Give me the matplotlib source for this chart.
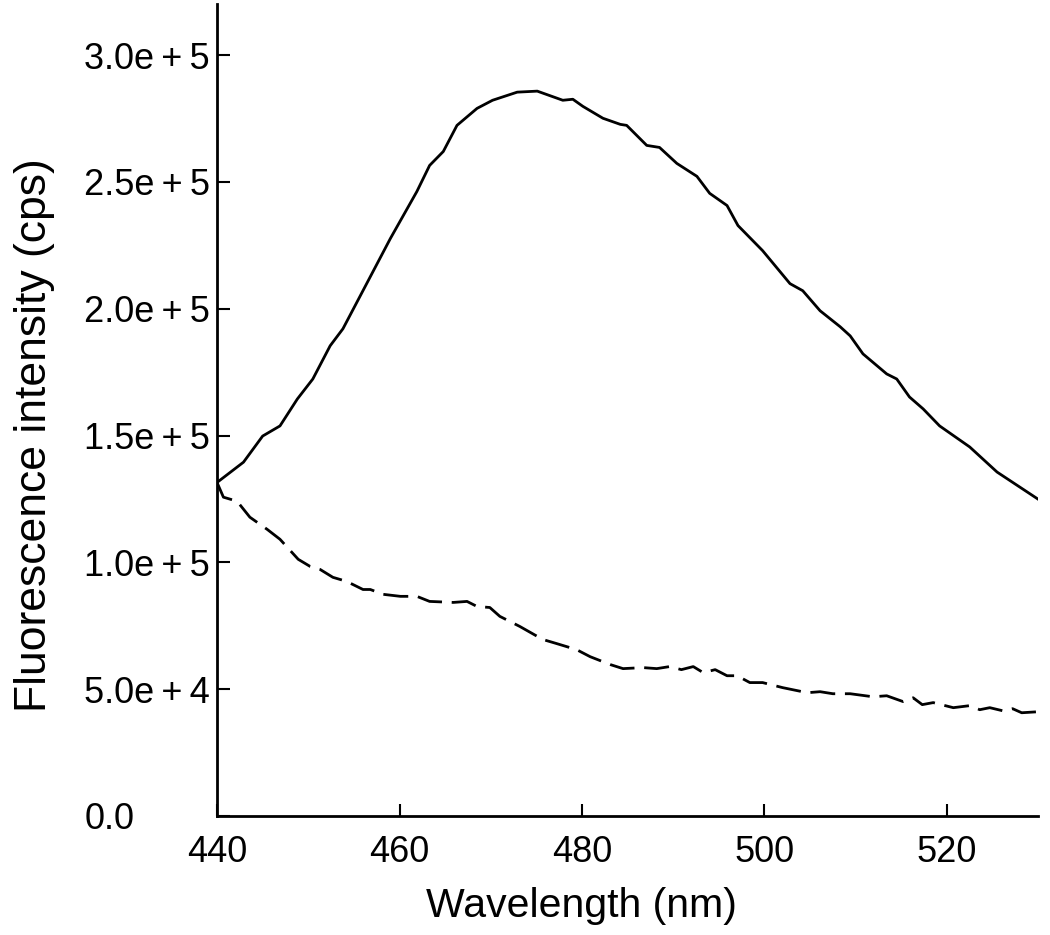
import matplotlib
matplotlib.use("Agg")
import matplotlib.pyplot as plt

# Solid curve
solid_wl = [440.0, 442.9, 445.0, 446.9, 448.8, 450.5, 452.4, 453.8, 455.7, 459.0,
            461.9, 463.3, 464.8, 466.3, 468.5, 470.2, 472.9, 475.1, 477.9, 479.0,
            480.1, 482.3, 484.2, 484.9, 487.1, 488.5, 490.4, 492.6, 494.0, 495.9,
            497.1, 499.8, 502.8, 504.2, 506.1, 508.3, 509.4, 510.8, 513.4, 514.5,
            515.9, 517.4, 519.2, 522.5, 525.5, 530.0]
solid_val = [1.315e5, 1.395e5, 1.498e5, 1.538e5, 1.644e5, 1.723e5, 1.854e5, 1.921e5, 2.051e5, 2.277e5,
             2.462e5, 2.565e5, 2.62e5, 2.723e5, 2.79e5, 2.822e5, 2.854e5, 2.858e5, 2.822e5, 2.826e5,
             2.798e5, 2.751e5, 2.727e5, 2.723e5, 2.644e5, 2.636e5, 2.573e5, 2.522e5, 2.455e5, 2.407e5,
             2.328e5, 2.229e5, 2.099e5, 2.071e5, 1.992e5, 1.929e5, 1.893e5, 1.822e5, 1.743e5, 1.723e5,
             1.652e5, 1.605e5, 1.538e5, 1.455e5, 1.356e5, 1.249e5]

# Dashed curve
dashed_wl = [440.0, 440.7, 442.2, 443.6, 445.5, 446.9, 448.9, 450.2, 451.3, 452.7,
             454.2, 456.0, 456.8, 458.2, 460.1, 461.9, 463.3, 465.9, 467.4, 468.5,
             469.9, 471.0, 472.1, 473.2, 475.7, 477.2, 479.4, 480.9, 483.1, 484.5,
             486.7, 488.2, 489.6, 490.9, 492.2, 493.3, 494.6, 495.9, 497.0, 498.4,
             499.8, 502.0, 504.7, 506.1, 507.5, 509.4, 511.9, 513.4, 515.2, 516.3,
             517.3, 518.5, 520.7, 522.5, 523.6, 524.7, 526.1, 527.2, 528.2, 530.0]
dashed_val = [1.315e5, 1.257e5, 1.241e5, 1.178e5, 1.13e5, 1.091e5, 1.012e5, 0.984e5, 0.972e5, 0.941e5,
              0.925e5, 0.893e5, 0.893e5, 0.874e5, 0.866e5, 0.866e5, 0.846e5, 0.842e5, 0.846e5, 0.826e5,
              0.822e5, 0.787e5, 0.767e5, 0.747e5, 0.696e5, 0.680e5, 0.656e5, 0.628e5, 0.597e5, 0.581e5,
              0.585e5, 0.581e5, 0.589e5, 0.577e5, 0.589e5, 0.565e5, 0.577e5, 0.553e5, 0.553e5, 0.526e5,
              0.526e5, 0.506e5, 0.486e5, 0.490e5, 0.482e5, 0.482e5, 0.470e5, 0.474e5, 0.451e5, 0.466e5,
              0.439e5, 0.447e5, 0.427e5, 0.435e5, 0.419e5, 0.427e5, 0.415e5, 0.423e5, 0.407e5, 0.411e5]

x_ticks = [440, 460, 480, 500, 520]
y_ticks = [0, 5e4, 1e5, 1.5e5, 2e5, 2.5e5, 3e5]
y_tick_labels = ["0.0", "5.0e\u2009+\u20094", "1.0e\u2009+\u20095", "1.5e\u2009+\u20095",
                 "2.0e\u2009+\u20095", "2.5e\u2009+\u20095", "3.0e\u2009+\u20095"]

plt.rcParams['font.family'] = ['Liberation Sans', 'DejaVu Sans']

fig = plt.figure(figsize=(10.5, 9.35), dpi=100)
ax = fig.add_axes([0.2067, 0.1273, 0.782, 0.868])
ax.plot(solid_wl, solid_val, color='black', lw=2.0, solid_joinstyle='round')
ax.plot(dashed_wl, dashed_val, color='black', lw=2.0, dashes=(9, 3.5))

ax.set_xlim(440, 530)
ax.set_ylim(0, 3.2e5)
ax.set_xticks(x_ticks)
ax.set_xticklabels([str(v) for v in x_ticks])
ax.set_yticks(y_ticks)
ax.set_yticklabels(y_tick_labels, ha='left')
ax.tick_params(direction='in', length=9, width=1.5, labelsize=26)
ax.tick_params(axis='x', pad=14)
ax.tick_params(axis='y', pad=95.5)
for s in ['top', 'right']:
    ax.spines[s].set_visible(False)
for s in ['left', 'bottom']:
    ax.spines[s].set_linewidth(2)
ax.set_xlabel("Wavelength (nm)", fontsize=29.5, labelpad=12)
ax.set_ylabel("Fluorescence intensity (cps)", fontsize=32, labelpad=21)
ax.xaxis.label.set_x(0.444)
ax.yaxis.label.set_y(0.469)

fig.savefig("out.png", dpi=100)
